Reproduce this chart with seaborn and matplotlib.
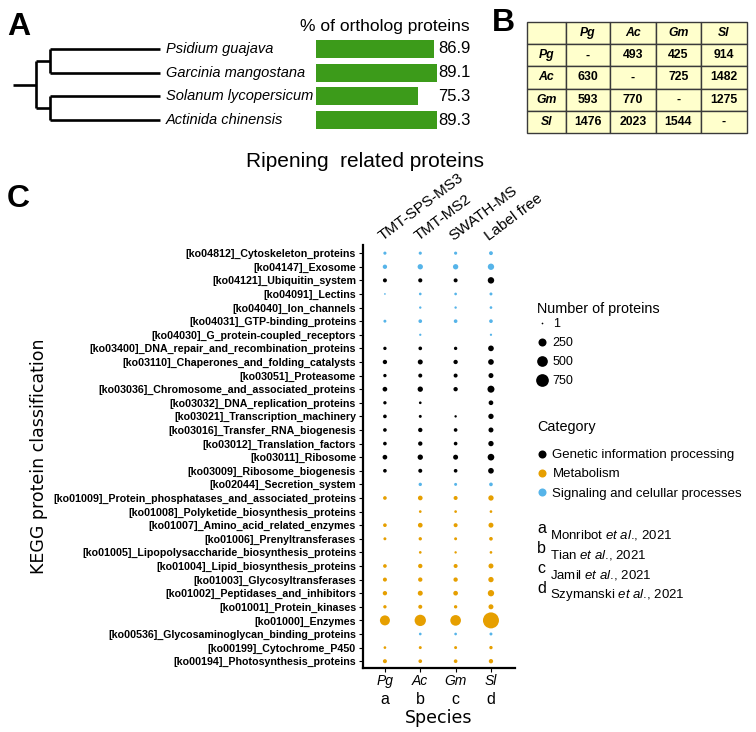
import numpy as np
import pandas as pd
import matplotlib
matplotlib.use("Agg")
import matplotlib.pyplot as plt
import seaborn as sns
from matplotlib.lines import Line2D
from matplotlib import transforms

sns.set_style("white")
plt.rcParams["font.family"] = ["Liberation Sans", "DejaVu Sans"]
plt.rcParams["mathtext.fontset"] = "custom"
plt.rcParams["mathtext.rm"] = "Liberation Sans"
plt.rcParams["mathtext.it"] = "Liberation Sans:italic"
plt.rcParams["mathtext.bf"] = "Liberation Sans:bold"
plt.rcParams.update({"text.color": "black", "axes.labelcolor": "black",
                     "xtick.color": "black", "ytick.color": "black"})

# ---------------- data ----------------
# Panel A
tree_species = ["Psidium guajava", "Garcinia mangostana", "Solanum lycopersicum", "Actinida chinensis"]
ortholog_pct = [86.9, 89.1, 75.3, 89.3]

# Panel B
table_species = ["Pg", "Ac", "Gm", "Sl"]
table_values = [
    ["-", "493", "425", "914"],
    ["630", "-", "725", "1482"],
    ["593", "770", "-", "1275"],
    ["1476", "2023", "1544", "-"],
]

# Panel C
kegg_terms = [
    "[ko04812]_Cytoskeleton_proteins",
    "[ko04147]_Exosome",
    "[ko04121]_Ubiquitin_system",
    "[ko04091]_Lectins",
    "[ko04040]_Ion_channels",
    "[ko04031]_GTP-binding_proteins",
    "[ko04030]_G_protein-coupled_receptors",
    "[ko03400]_DNA_repair_and_recombination_proteins",
    "[ko03110]_Chaperones_and_folding_catalysts",
    "[ko03051]_Proteasome",
    "[ko03036]_Chromosome_and_associated_proteins",
    "[ko03032]_DNA_replication_proteins",
    "[ko03021]_Transcription_machinery",
    "[ko03016]_Transfer_RNA_biogenesis",
    "[ko03012]_Translation_factors",
    "[ko03011]_Ribosome",
    "[ko03009]_Ribosome_biogenesis",
    "[ko02044]_Secretion_system",
    "[ko01009]_Protein_phosphatases_and_associated_proteins",
    "[ko01008]_Polyketide_biosynthesis_proteins",
    "[ko01007]_Amino_acid_related_enzymes",
    "[ko01006]_Prenyltransferases",
    "[ko01005]_Lipopolysaccharide_biosynthesis_proteins",
    "[ko01004]_Lipid_biosynthesis_proteins",
    "[ko01003]_Glycosyltransferases",
    "[ko01002]_Peptidases_and_inhibitors",
    "[ko01001]_Protein_kinases",
    "[ko01000]_Enzymes",
    "[ko00536]_Glycosaminoglycan_binding_proteins",
    "[ko00199]_Cytochrome_P450",
    "[ko00194]_Photosynthesis_proteins",
]
G = "Genetic information processing"
M = "Metabolism"
S = "Signaling and celullar processes"
categories = [G, M, S]
kegg_category = [S, S, G, S, S, S, S,
                 G, G, G, G, G, G, G, G, G, G,
                 S,
                 M, M, M, M, M, M, M, M, M, M,
                 S, M, M]
species = ["Pg", "Ac", "Gm", "Sl"]
methods = ["TMT-SPS-MS3", "TMT-MS2", "SWATH-MS", "Label free"]
ref_letters = ["a", "b", "c", "d"]
ref_authors = ["Monribot", "Tian", "Jamil", "Szymanski"]
ref_year = "2021"
nan = np.nan
count_Pg = [14, 44, 34, 1, nan, 11, nan, 18, 44, 18, 56, 18, 25, 25, 25, 56, 25, nan,
            25, nan, 25, 11, nan, 25, 34, 44, 18, 427, nan, 7, 34]
count_Ac = [14, 83, 38, 7, 4, 25, 3, 25, 68, 34, 83, 7, 11, 44, 44, 83, 34, 18,
            56, 7, 56, 18, 7, 44, 44, 68, 34, 574, 7, 11, 25]
count_Gm = [14, 83, 34, 7, 4, 25, nan, 18, 44, 34, 44, nan, 4, 25, 25, 68, 25, 11,
            34, 7, 34, 11, 4, 34, 44, 56, 18, 498, 7, 11, 25]
count_Sl = [30, 134, 140, 11, 7, 25, 3, 99, 99, 68, 175, 56, 83, 68, 83, 154, 99, 25,
            83, 7, 68, 25, 7, 68, 83, 134, 68, 1266, 11, 18, 44]
legend_counts = [1, 250, 500, 750]

palette = {G: "#000000", M: "#E69F00", S: "#56B4E9"}
bar_color = "#3c9b1a"

# ---------------- helpers ----------------
W, H = 756, 732
def fx(x): return x / W
def fy(y): return 1 - y / H

def diam_px(v):
    return 1.7 + 11.0 * np.sqrt((v - 1) / 749.0)

fig = plt.figure(figsize=(W / 100, H / 100), dpi=100)

# ---------------- Panel A ----------------
fig.text(fx(7), fy(35), "A", fontsize=23, fontweight="bold", ha="left", va="baseline")
ax_top, ax_bot = 37, 132
# tree
axT = fig.add_axes([fx(13), fy(ax_bot), fx(153), (ax_bot - ax_top) / H])
axT.set_xlim(0, 153)
axT.set_ylim(len(tree_species) - 0.5, -0.5)
axT.axis("off")
root_depth, clade_depth, tip_depth = 23, 37, 147
clades = [[0, 1], [2, 3]]
lw = 1.9
clade_y = []
for cl in clades:
    cy = np.mean(cl)
    clade_y.append(cy)
    axT.plot([clade_depth, clade_depth], [min(cl), max(cl)], color="k", lw=lw, solid_capstyle="butt")
    for leaf in cl:
        axT.plot([clade_depth, tip_depth], [leaf, leaf], color="k", lw=lw, solid_capstyle="butt")
    axT.plot([root_depth, clade_depth], [cy, cy], color="k", lw=lw, solid_capstyle="butt")
axT.plot([root_depth, root_depth], [min(clade_y), max(clade_y)], color="k", lw=lw, solid_capstyle="butt")
axT.plot([0, root_depth], [np.mean(clade_y)] * 2, color="k", lw=lw, solid_capstyle="butt")
for i, sp in enumerate(tree_species):
    axT.text(tip_depth + 6, i, sp, fontsize=10.5, fontstyle="italic", ha="left", va="center", clip_on=False)

# bars
axA = fig.add_axes([fx(316), fy(ax_bot), fx(160), (ax_bot - ax_top) / H])
dfA = pd.DataFrame({"species": tree_species, "pct": ortholog_pct})
sns.barplot(data=dfA, x="pct", y="species", orient="h", color=bar_color, saturation=1,
            width=0.76, linewidth=0, ax=axA)
axA.set_xlim(0, 118)
axA.set_ylim(len(tree_species) - 0.5, -0.5)
axA.axis("off")
for i, v in enumerate(ortholog_pct):
    axA.text(max(ortholog_pct) + 0.5, i, f"{v:.1f}", fontsize=12, ha="left", va="center")
fig.text(fx(300), fy(31), "% of ortholog proteins", fontsize=12.5, ha="left", va="baseline")

# ---------------- Panel B ----------------
fig.text(fx(492), fy(31), "B", fontsize=23, fontweight="bold", ha="left", va="baseline")
axB = fig.add_axes([fx(527), fy(133), fx(220), 111 / H])
axB.axis("off")
cells = [[""] + table_species] + [[sp] + row for sp, row in zip(table_species, table_values)]
tbl = axB.table(cellText=cells, bbox=[0, 0, 1, 1], cellLoc="center",
                colWidths=[0.177, 0.2, 0.209, 0.205, 0.209])
tbl.auto_set_font_size(False)
for (r, c), cell in tbl.get_celld().items():
    cell.set_facecolor("#ffffcc")
    cell.set_edgecolor("#3a3a3a")
    cell.set_linewidth(1.0)
    t = cell.get_text()
    t.set_fontsize(8.8)
    t.set_fontweight("bold")
    if r == 0 or c == 0:
        t.set_fontstyle("italic")

# ---------------- Panel C ----------------
fig.text(fx(7), fy(207), "C", fontsize=23, fontweight="bold", ha="left", va="baseline")
fig.text(fx(365), fy(167), "Ripening  related proteins", fontsize=15, ha="center", va="baseline")

rows = []
for sp, counts in zip(species, [count_Pg, count_Ac, count_Gm, count_Sl]):
    for term, cat, n in zip(kegg_terms, kegg_category, counts):
        if not np.isnan(n):
            rows.append({"Species": sp, "KEGG": term, "Category": cat, "Count": int(n)})
df = pd.DataFrame(rows)
df["xpos"] = df["Species"].map({s: i for i, s in enumerate(species)})
df["ypos"] = df["KEGG"].map({t: i for i, t in enumerate(kegg_terms)})
size_map = {v: (diam_px(v) * 0.72) ** 2 for v in sorted(df["Count"].unique())}

axC = fig.add_axes([fx(363), fy(668), fx(515 - 363), (668 - 245) / H])
sns.scatterplot(data=df, x="xpos", y="ypos", hue="Category", palette=palette,
                size="Count", sizes=size_map, linewidth=0, legend=False, ax=axC)
axC.set_xlim(-0.62, 3.68)
axC.set_ylim(len(kegg_terms) - 0.5, -0.6)
for sp in ["top", "right"]:
    axC.spines[sp].set_visible(False)
for sp in ["left", "bottom"]:
    axC.spines[sp].set_color("black")
    axC.spines[sp].set_linewidth(1.6)
axC.set_yticks(range(len(kegg_terms)))
axC.set_yticklabels(kegg_terms, fontsize=7.65, fontweight="bold")
axC.set_xticks(range(len(species)))
axC.set_xticklabels(species, fontsize=10, fontstyle="italic")
axC.tick_params(axis="x", which="major", pad=1)
axC.tick_params(axis="both", which="major", length=3, width=0.8, color="black",
                left=True, bottom=True)
axC.tick_params(axis="y", which="major", pad=2)
axC.set_ylabel("KEGG protein classification", fontsize=12.5, family="DejaVu Sans")
axC.yaxis.set_label_coords((48 - 363) / 152, 0.5)
axC.set_xlabel("Species", fontsize=12.5, family="DejaVu Sans")
axC.xaxis.set_label_coords(0.5, (668 - 709) / 423)
trans = transforms.blended_transform_factory(axC.transData, axC.transAxes)
for i, letter in enumerate(ref_letters):
    axC.text(i, (668 - 699) / 423, letter, transform=trans, fontsize=11.5, ha="center", va="center")
for i, m in enumerate(methods):
    axC.text(i - 0.06, 1.01, m, transform=trans, fontsize=11, rotation=37,
             rotation_mode="anchor", ha="left", va="baseline")

# size legend
fig.text(fx(537), fy(313), "Number of proteins", fontsize=10.4, ha="left", va="baseline")
size_handles = [Line2D([], [], marker="o", ls="", color="black", markeredgewidth=0,
                       markersize=diam_px(v) * 0.72) for v in legend_counts]
fig.legend(size_handles, [str(v) for v in legend_counts], loc="upper left",
           bbox_to_anchor=(fx(534), fy(318)), frameon=False, fontsize=9,
           handletextpad=0.3, labelspacing=0.56, borderpad=0, borderaxespad=0,
           handlelength=1.2)

# category legend
fig.text(fx(537), fy(431), "Category", fontsize=10.4, ha="left", va="baseline")
cat_handles = [Line2D([], [], marker="o", ls="", color=palette[c], markeredgewidth=0,
                      markersize=5.8) for c in categories]
fig.legend(cat_handles, categories, loc="upper left",
           bbox_to_anchor=(fx(534), fy(449)), frameon=False, fontsize=9.5,
           handletextpad=0.2, labelspacing=0.53, borderpad=0, borderaxespad=0,
           handlelength=1.2)

# references
for i, (letter, author) in enumerate(zip(ref_letters, ref_authors)):
    yb = 538 + 20 * i
    fig.text(fx(537), fy(yb - 5), letter, fontsize=11.5, ha="left", va="baseline")
    fig.text(fx(550), fy(yb), author + r" $\it{et\ al}$., " + ref_year, fontsize=9.5,
             ha="left", va="baseline")

fig.savefig("out.png", dpi=100)
